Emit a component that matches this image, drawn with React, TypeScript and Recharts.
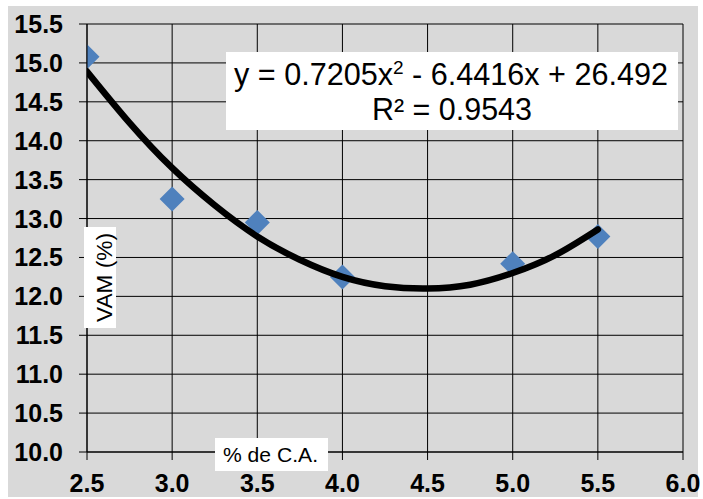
import React from 'react';
import { ComposedChart, Scatter, Line, XAxis, YAxis, CartesianGrid } from 'recharts';

const caPercent = [2.5, 3.0, 3.5, 4.0, 5.0, 5.5];
const vamValues = [15.08, 13.25, 12.95, 12.25, 12.42, 12.77];

const trendX = [2.5, 2.75, 3.0, 3.25, 3.5, 3.75, 4.0, 4.25, 4.5, 4.75, 5.0, 5.25, 5.5];
const trendY = [14.89, 14.23, 13.65, 13.17, 12.77, 12.47, 12.25, 12.13, 12.1, 12.15, 12.3, 12.53, 12.86];

const xTicks = [2.5, 3.0, 3.5, 4.0, 4.5, 5.0, 5.5, 6.0];
const yTicks = [10.0, 10.5, 11.0, 11.5, 12.0, 12.5, 13.0, 13.5, 14.0, 14.5, 15.0, 15.5];

const xTitle = '% de C.A.';
const yTitle = 'VAM (%)';
const eqMain = 'y = 0.7205x';
const eqSup = '2';
const eqRest = ' - 6.4416x + 26.492';
const r2Text = 'R² = 0.9543';

const pointData = caPercent.map((x, i) => ({ x, y: vamValues[i] }));
const trendData = trendX.map((x, i) => ({ x, y: trendY[i] }));

const FONT = '"Liberation Sans", Arial, sans-serif';

const XTick = (p: any) => (
  <text x={p.x} y={p.y + 32} textAnchor="middle" fontFamily={FONT} fontWeight="bold" fontSize={25} fill="#000">
    {Number(p.payload.value).toFixed(1)}
  </text>
);

const YTick = (p: any) => (
  <text x={p.x} y={p.y + 9} textAnchor="end" fontFamily={FONT} fontWeight="bold" fontSize={25} fill="#000">
    {Number(p.payload.value).toFixed(1)}
  </text>
);

const Diamond = (p: any) => {
  const { cx, cy } = p;
  const r = 12.5;
  return (
    <polygon
      points={`${cx},${cy - r} ${cx + r},${cy} ${cx},${cy + r} ${cx - r},${cy}`}
      fill="#4f81bd"
    />
  );
};

export default function App() {
  const lineProps: any = { zIndex: 700 };
  const scatterProps: any = { zIndex: 300 };
  return (
    <div style={{ position: 'absolute', left: 0, top: 0, width: 703, height: 499, background: '#fff', overflow: 'hidden' }}>
      <div style={{ position: 'absolute', left: 8, top: 6, width: 690, height: 491, background: '#d9d9d9' }} />
      <div style={{ position: 'absolute', left: 8, top: 6, width: 695, height: 493 }}>
        <ComposedChart width={695} height={493} margin={{ top: 18, right: 20, left: 0, bottom: 0 }}>
          <CartesianGrid stroke="#000" strokeWidth={1} />
          <XAxis
            type="number"
            dataKey="x"
            domain={[2.5, 6.0]}
            ticks={xTicks}
            allowDataOverflow
            height={47}
            tickSize={8}
            tickMargin={0}
            axisLine={{ stroke: '#000' }}
            tickLine={{ stroke: '#000' }}
            tick={<XTick />}
            interval={0}
          />
          <YAxis
            type="number"
            dataKey="y"
            domain={[10, 15.5]}
            ticks={yTicks}
            allowDataOverflow
            width={79}
            tickSize={8}
            tickMargin={16}
            axisLine={{ stroke: '#000' }}
            tickLine={{ stroke: '#000' }}
            tick={<YTick />}
            interval={0}
          />
          <Scatter data={pointData} dataKey="y" shape={<Diamond />} isAnimationActive={false} {...scatterProps} />
          <Line
            data={trendData}
            dataKey="y"
            type="natural"
            stroke="#000"
            strokeWidth={6.5}
            strokeLinecap="round"
            dot={false}
            activeDot={false}
            isAnimationActive={false}
            {...lineProps}
          />
        </ComposedChart>
      </div>
      <svg width={703} height={499} style={{ position: 'absolute', left: 0, top: 0, pointerEvents: 'none' }}>
        <rect x={226} y={52} width={452} height={78} fill="#fff" />
        <text x={234} y={85} fontFamily={FONT} fontSize={30.5} fill="#000" textLength={434} lengthAdjust="spacingAndGlyphs">
          {eqMain}
          <tspan dy={-11} fontSize={19}>{eqSup}</tspan>
          <tspan dy={11}>{eqRest}</tspan>
        </text>
        <text x={372} y={120} fontFamily={FONT} fontSize={30.5} fill="#000" textLength={160} lengthAdjust="spacingAndGlyphs">
          {r2Text}
        </text>
        <rect x={84} y={227} width={32} height={101} fill="#fff" />
        <text
          transform="translate(112,277.5) rotate(-90)"
          x={0}
          y={0}
          textAnchor="middle"
          fontFamily={FONT}
          fontSize={22}
          fill="#000"
          textLength={89}
          lengthAdjust="spacingAndGlyphs"
        >
          {yTitle}
        </text>
        <rect x={215} y={438} width={113} height={33} fill="#fff" />
        <text x={223} y={462} fontFamily={FONT} fontSize={20} fill="#000" textLength={95} lengthAdjust="spacingAndGlyphs">
          {xTitle}
        </text>
      </svg>
    </div>
  );
}
